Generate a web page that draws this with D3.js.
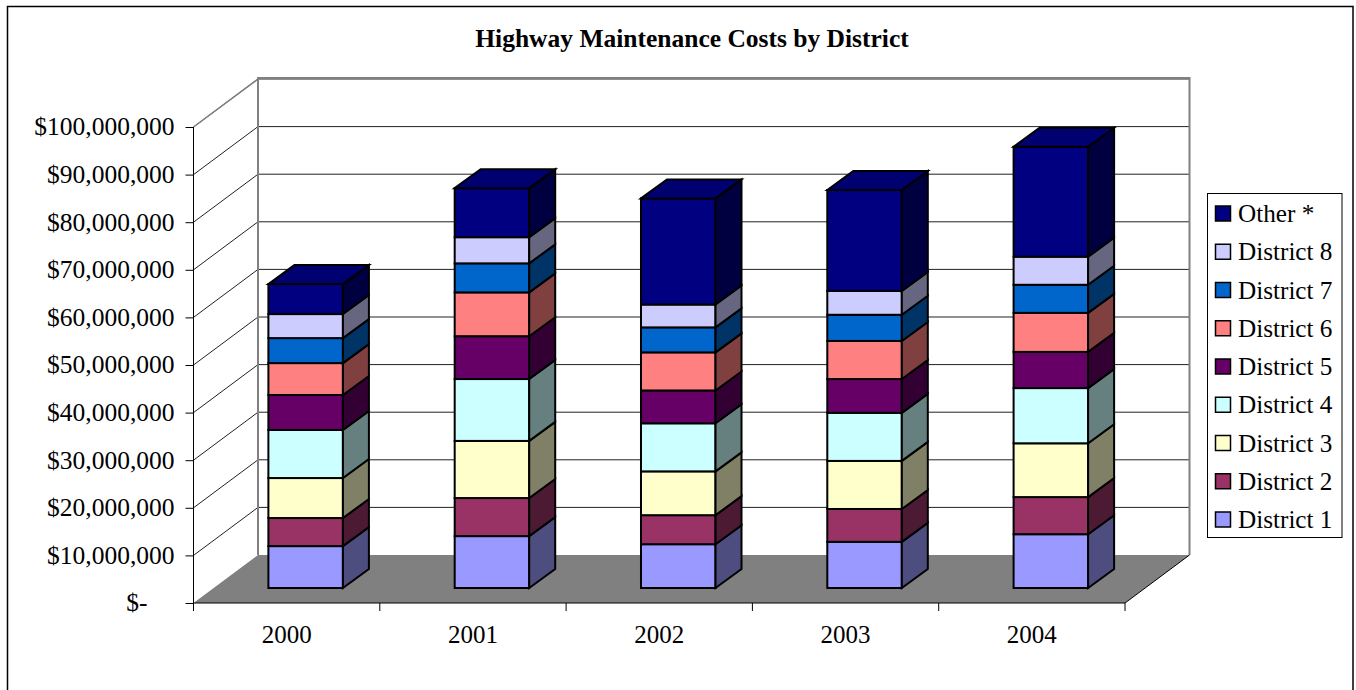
<!DOCTYPE html>
<html><head><meta charset="utf-8">
<script src="https://cdnjs.cloudflare.com/ajax/libs/d3/7.8.5/d3.min.js"></script>
<style>html,body{margin:0;padding:0;background:#fff}svg{display:block}text{font-family:"Liberation Serif",serif;fill:#000}</style>
</head><body><svg id="c" width="1356" height="690"></svg>
<script>
const years = ["2000","2001","2002","2003","2004"];
const seriesNames = ["District 1","District 2","District 3","District 4","District 5","District 6","District 7","District 8","Other *"];
const seriesColors = ["#9999FF","#993366","#FFFFCC","#CCFFFF","#660066","#FF8080","#0066CC","#CCCCFF","#000080"];
const sideColors = ["#4D4D80","#4D1A33","#808066","#668080","#330033","#804040","#003366","#666680","#000040"];
const district1 = [8.8,10.9,9.2,9.7,11.3];
const district2 = [5.9,8.0,6.1,6.9,7.8];
const district3 = [8.4,12.0,9.2,10.1,11.3];
const district4 = [10.1,13.0,10.1,10.1,11.6];
const district5 = [7.35,9.0,6.9,7.1,7.6];
const district6 = [6.7,9.2,8.0,8.0,8.2];
const district7 = [5.25,6.1,5.25,5.5,5.9];
const district8 = [5.05,5.5,4.8,5.0,5.9];
const other = [6.3,10.3,22.3,21.2,23.1];
const seriesValues = [district1,district2,district3,district4,district5,district6,district7,district8,other];
const yTicks = [0,10,20,30,40,50,60,70,80,90,100];
const tickLabel = v => v===0 ? "$-" : "$"+d3.format(",")(v*1e6);

const svg = d3.select("#c");
const fx0=193.5, fx1=1125, fy0=603, fy100=127, wallDx=64.5, wallDy=-48;
const barFrontDx=19, barFrontDy=-15, barDx=26, barDy=-19;
const x = d3.scaleBand().domain(years).range([fx0,fx1]).paddingInner(0.6).paddingOuter(0.3);
const xTicks = d3.scaleBand().domain(years).range([fx0,fx1]);
const y = d3.scaleLinear().domain([0,100]).range([fy0,fy100]);

// chart frame
svg.append("rect").attr("x",7.5).attr("y",6.5).attr("width",1345.5).attr("height",700).attr("fill","#fff").attr("stroke","#000").attr("stroke-width",1.5);

// title
svg.append("text").attr("x",692).attr("y",47).attr("text-anchor","middle").attr("font-size",25.5).attr("font-weight","bold").text("Highway Maintenance Costs by District");

// floor
const pts = a => a.map(p=>p.join(",")).join(" ");
svg.append("polygon").attr("points",pts([[fx0,fy0],[fx0+wallDx,fy0+wallDy],[fx1+wallDx,fy0+wallDy],[fx1,fy0]])).attr("fill","#808080").attr("stroke","none");

// gridlines
const grid = svg.append("g").attr("fill","none").attr("stroke-width",1);
yTicks.forEach(t=>{
  if(t===0) return;
  grid.append("path").attr("d",`M${fx0},${y(t)}L${fx0+wallDx},${y(t)+wallDy}L${fx1+wallDx},${y(t)+wallDy}`).attr("stroke","#222");
});
// walls outline
svg.append("path").attr("d",`M${fx0},${y(100)}L${fx0+wallDx},${y(100)+wallDy}`).attr("fill","none").attr("stroke","#808080").attr("stroke-width",1.5);
svg.append("path").attr("d",`M${fx0+wallDx},${fy0+wallDy}V${y(100)+wallDy-1}H${fx1+wallDx}V${fy0+wallDy}`).attr("fill","none").attr("stroke","#808080").attr("stroke-width",2);
svg.append("path").attr("d",`M${fx1},${fy0}L${fx1+wallDx},${fy0+wallDy}`).attr("fill","none").attr("stroke","#000").attr("stroke-width",1);

// axes
const axisY = d3.axisLeft(y).tickValues(yTicks).tickFormat(tickLabel).tickSize(8).tickPadding(11);
const gy = svg.append("g").attr("transform",`translate(${fx0},0)`).call(axisY);
gy.selectAll("text").attr("font-size",25.5).attr("font-family","Liberation Serif").attr("dy","0.31em").attr("fill","#000");
gy.selectAll(".tick").filter(d=>d===0).select("text").attr("dx",-27);
gy.select(".domain").attr("stroke","#000").attr("d",`M0,${fy100}V${fy0}`);
const axisX = d3.axisBottom(xTicks).tickSize(0).tickPadding(22);
const gx = svg.append("g").attr("transform",`translate(0,${fy0})`).call(axisX);
gx.selectAll("text").attr("font-size",25).attr("font-family","Liberation Serif").attr("dy","0.71em").attr("fill","#000");
gx.select(".domain").attr("d",`M${fx0},0H${fx1}`).attr("stroke","#000");
d3.range(6).forEach(i=>{
  gx.append("line").attr("x1",fx0+i*xTicks.step()).attr("x2",fx0+i*xTicks.step()).attr("y1",0).attr("y2",8).attr("stroke","#000");
});

// bars
const bars = svg.append("g").attr("stroke","#000").attr("stroke-width",2).attr("stroke-linejoin","miter");
years.forEach((yr,i)=>{
  const xl = x(yr)+barFrontDx, xr = xl+x.bandwidth();
  const by = v => y(v)+barFrontDy;
  let acc=0;
  const g = bars.append("g");
  seriesValues.forEach((vals,s)=>{
    const a=acc, b=acc+vals[i]; acc=b;
    g.append("rect").attr("x",xl).attr("y",by(b)).attr("width",x.bandwidth()).attr("height",by(a)-by(b)).attr("fill",seriesColors[s]);
    g.append("polygon").attr("points",pts([[xr,by(a)],[xr+barDx,by(a)+barDy],[xr+barDx,by(b)+barDy],[xr,by(b)]])).attr("fill",sideColors[s]);
  });
  g.append("polygon").attr("points",pts([[xl,by(acc)],[xl+barDx,by(acc)+barDy],[xr+barDx,by(acc)+barDy],[xr,by(acc)]])).attr("fill","#000070");
});

// legend
const lx=1207.5, ly=193.5, lw=134.5, lh=344;
svg.append("rect").attr("x",lx).attr("y",ly).attr("width",lw).attr("height",lh).attr("fill","#fff").attr("stroke","#000").attr("stroke-width",1);
const legendY = d3.scalePoint().domain(d3.range(9)).range([214,520]);
seriesNames.slice().reverse().forEach((n,i)=>{
  const s=seriesNames.length-1-i;
  svg.append("rect").attr("x",1215.5).attr("y",legendY(i)-8).attr("width",15).attr("height",15).attr("fill",seriesColors[s]).attr("stroke","#000").attr("stroke-width",1.5);
  svg.append("text").attr("x",1238).attr("y",legendY(i)+8).attr("font-size",25.2).text(n);
});
</script></body></html>
